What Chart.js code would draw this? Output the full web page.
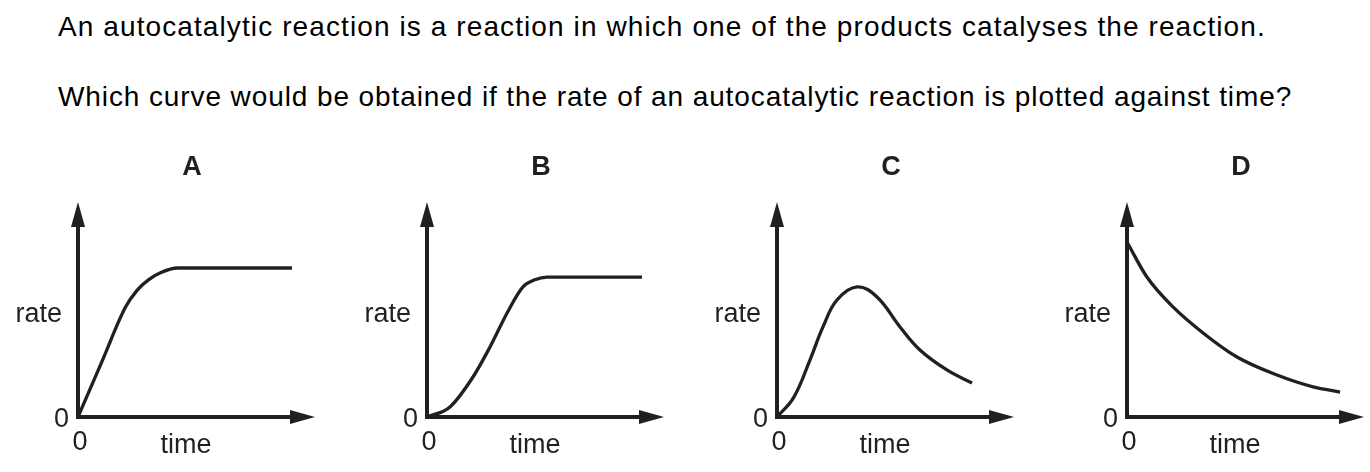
<!DOCTYPE html>
<html>
<head>
<meta charset="utf-8">
<script src="https://cdn.jsdelivr.net/npm/chart.js@4.4.1/dist/chart.umd.min.js"></script>
<style>
  body { margin: 0; background: #fff; width: 1370px; height: 472px; position: relative; overflow: hidden;
         font-family: "Liberation Sans", Arial, sans-serif; color: #231f20; }
  .q { position: absolute; left: 58px; font-size: 28px; line-height: 28px; letter-spacing: 1px;
       white-space: nowrap; color: #000; }
  .box { position: absolute; top: 140px; width: 320px; height: 332px; }
  .box canvas { display: block; }
</style>
</head>
<body>
<div class="q" style="top:13px; letter-spacing:1.1px">An autocatalytic reaction is a reaction in which one of the products catalyses the reaction.</div>
<div class="q" style="top:83px; letter-spacing:0.9px">Which curve would be obtained if the rate of an autocatalytic reaction is plotted against time?</div>

<div class="box" style="left:-2px"><canvas id="chartA" width="320" height="332"></canvas></div>
<div class="box" style="left:347px"><canvas id="chartB" width="320" height="332"></canvas></div>
<div class="box" style="left:697px"><canvas id="chartC" width="320" height="332"></canvas></div>
<div class="box" style="left:1047px"><canvas id="chartD" width="320" height="332"></canvas></div>

<script>
// values, axes run 0..10 (10 = arrow tip)
const timeA = [0, 1.0, 2.0, 2.5, 3.0, 3.5, 4.2, 6.0, 9.03];
const rateA = [0, 2.55, 5.1, 5.9, 6.4, 6.72, 6.93, 6.93, 6.93];

const timeB = [0, 0.97, 1.94, 2.66, 3.38, 4.05, 4.55, 5.06, 7.0, 9.07];
const rateB = [0, 0.47, 1.86, 3.26, 4.84, 6.05, 6.38, 6.51, 6.51, 6.51];

const timeC = [0, 0.7, 1.39, 1.94, 2.53, 3.38, 4.22, 5.19, 6.03, 7.17, 8.23];
const rateC = [0, 0.9, 2.65, 4.19, 5.44, 6.05, 5.58, 4.19, 3.12, 2.19, 1.58];

const timeD = [0, 0.84, 1.94, 3.21, 4.64, 6.33, 7.85, 8.99];
const rateD = [8.14, 6.51, 5.12, 3.91, 2.79, 1.95, 1.40, 1.16];

const letters = ['A', 'B', 'C', 'D'];
const ink = '#231f20';
const font = '"Liberation Sans", Arial, sans-serif';

const arrowAxes = {
  id: 'arrowAxes',
  afterDatasetsDraw(chart, args, opts) {
    const ctx = chart.ctx;
    const ox = chart.scales.x.getPixelForValue(0);
    const oy = chart.scales.y.getPixelForValue(0);
    const tipX = chart.scales.x.getPixelForValue(10);
    const tipY = chart.scales.y.getPixelForValue(10);
    ctx.save();
    ctx.strokeStyle = ink;
    ctx.fillStyle = ink;
    ctx.lineWidth = 4;
    ctx.beginPath();
    ctx.moveTo(ox, oy + 2);
    ctx.lineTo(ox, tipY + 20);
    ctx.moveTo(ox - 2, oy);
    ctx.lineTo(tipX - 20, oy);
    ctx.stroke();

    // arrow heads
    ctx.beginPath();
    ctx.moveTo(ox, tipY);
    ctx.lineTo(ox - 7, tipY + 25);
    ctx.lineTo(ox + 7, tipY + 25);
    ctx.closePath();
    ctx.fill();
    ctx.beginPath();
    ctx.moveTo(tipX, oy);
    ctx.lineTo(tipX - 25, oy - 7);
    ctx.lineTo(tipX - 25, oy + 7);
    ctx.closePath();
    ctx.fill();

    ctx.font = '27px ' + font;
    ctx.textBaseline = 'alphabetic';
    ctx.textAlign = 'right';
    ctx.fillText('rate', ox - 16, oy - 95);
    ctx.fillText('0', ox - 9, oy + 10);
    ctx.textAlign = 'center';
    ctx.fillText('0', ox + 2, oy + 33);
    ctx.fillText('time', ox + 108, oy + 36);

    ctx.font = 'bold 27px ' + font;
    ctx.fillText(opts.letter, ox + 114, tipY - 27);
    ctx.restore();
  }
};

function makeChart(id, times, rates, letter, smooth) {
  new Chart(document.getElementById(id), {
    type: 'line',
    data: {
      datasets: [{
        data: times.map((t, i) => ({ x: t, y: rates[i] })),
        borderColor: ink,
        borderWidth: 3.3,
        pointRadius: 0,
        fill: false,
        cubicInterpolationMode: smooth ? 'default' : 'monotone',
        tension: 0.4
      }]
    },
    options: {
      responsive: false,
      animation: false,
      events: [],
      layout: { padding: { left: 80, right: 3, top: 62, bottom: 55 } },
      scales: {
        x: { type: 'linear', min: 0, max: 10, display: false },
        y: { min: 0, max: 10, display: false }
      },
      plugins: {
        legend: { display: false },
        tooltip: { enabled: false },
        arrowAxes: { letter: letter }
      }
    },
    plugins: [arrowAxes]
  });
}

makeChart('chartA', timeA, rateA, letters[0], false);
makeChart('chartB', timeB, rateB, letters[1], false);
makeChart('chartC', timeC, rateC, letters[2], true);
makeChart('chartD', timeD, rateD, letters[3], false);
</script>
</body>
</html>
